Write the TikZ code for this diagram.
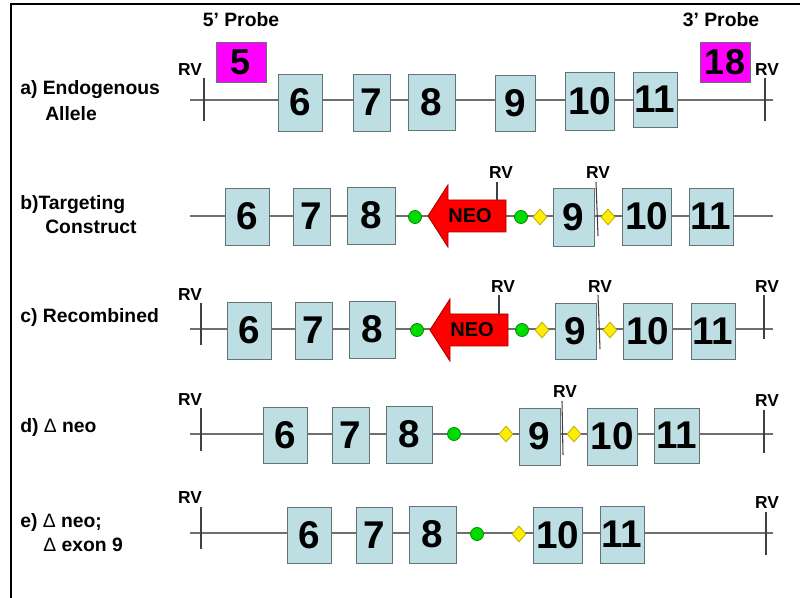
\documentclass[tikz,border=0pt]{standalone}
\usepackage{fontspec}
\setmainfont{Liberation Sans}
\definecolor{exfill}{RGB}{189,222,226}
\definecolor{exedge}{RGB}{100,115,118}
\definecolor{lineg}{RGB}{110,110,110}
\definecolor{neored}{RGB}{255,0,0}
\definecolor{neoedge}{RGB}{170,0,0}
\definecolor{loxg}{RGB}{0,220,0}
\definecolor{loxedge}{RGB}{0,140,0}
\definecolor{fry}{RGB}{255,238,0}
\definecolor{fredge}{RGB}{190,170,0}
\definecolor{probefill}{RGB}{255,0,255}
\tikzset{
  exon/.style={draw=exedge, fill=exfill, line width=0.7pt, inner sep=0pt,
    font=\fontsize{29}{29}\selectfont\bfseries},
  probe/.style={draw=exedge, fill=probefill, line width=0.7pt, inner sep=0pt,
    font=\fontsize{27}{27}\selectfont\bfseries},
  baseline/.style={draw=lineg, line width=0.8pt},
  tick/.style={draw=black!75, line width=0.8pt},
  rv/.style={font=\fontsize{13}{14}\selectfont\bfseries, inner sep=0pt},
  lab/.style={font=\fontsize{14.5}{16}\selectfont\bfseries, inner sep=0pt, anchor=west},
  loxp/.style={circle, draw=loxedge, fill=loxg, line width=0.6pt, minimum size=13*0.75pt, inner sep=0pt},
  frt/.style={diamond, draw=fredge, fill=fry, line width=0.6pt, minimum width=14*0.75pt, minimum height=16*0.75pt, inner sep=0pt},
  neoarrow/.style={fill=neored, draw=neoedge, line width=0.7pt},
  neotext/.style={font=\fontsize{15}{16}\selectfont\bfseries, inner sep=0pt},
}
\usetikzlibrary{shapes.geometric}
\newcommand\ex[7][exon]{%
  \node[#1, minimum width={(#4-#3)*0.75pt}, minimum height={(#6-#5)*0.75pt}]
    (#2) at ({(#3+#4)/2},{(#5+#6)/2}) {\raisebox{-1.5pt}{#7}};}
\newcommand\neoarr[3]{% tip x, y, name
  \draw[neoarrow] (#1,#2) -- (#1+20,#2-31) -- (#1+20,#2-16) -- (#1+78,#2-16)
     -- (#1+78,#2+16) -- (#1+20,#2+16) -- (#1+20,#2+31) -- cycle;
  \node[neotext] (#3) at (#1+42,#2) {NEO};}
\begin{document}
\begin{tikzpicture}[x=0.75pt, y=-0.75pt]
\useasboundingbox (0,0) rectangle (800,598);
% frame
\draw[line width=1.4pt] (11,598) -- (11,4) -- (800,4);

% probe titles
\node[font=\fontsize{14.5}{16}\selectfont\bfseries, inner sep=0pt] (p5) at (241,20) {5’ Probe};
\node[font=\fontsize{14.5}{16}\selectfont\bfseries, inner sep=0pt] (p3) at (721,20) {3’ Probe};

% ---------- row a ----------
\node[lab] (la1) at (20,90) {a) Endogenous};
\node[lab] (la2) at (45,114) {Allele};
\coordinate (aS) at (190,100); \coordinate (aE) at (773,100);
\draw[baseline] (aS) -- (aE);
\ex[probe]{a5}{216}{266}{42}{82}{5}
\ex[probe]{a18}{700}{750}{42}{82}{18}
\ex{a6}{278}{322}{74}{131}{6}
\ex{a7}{353}{390}{74}{131}{7}
\ex{a8}{408}{455}{74}{130}{8}
\ex{a9}{495}{535}{75}{131}{9}
\ex{a10}{565}{614}{72}{130}{10}
\ex{a11}{633}{677}{72}{127}{11}
\node[rv] (arv1) at (190,70) {RV};
\draw[tick] (204,78) -- (204,121);
\node[rv] (arv2) at (767,70) {RV};
\draw[tick] (765,78) -- (765,121);

% ---------- row b ----------
\node[lab] (lb1) at (20,205) {b)Targeting};
\node[lab] (lb2) at (45,227) {Construct};
\coordinate (bS) at (190,216); \coordinate (bE) at (773,216);
\draw[baseline] (bS) -- (bE);
\ex{b6}{225}{269}{188}{245}{6}
\ex{b7}{293}{330}{188}{245}{7}
\ex{b8}{347}{395}{187}{244}{8}
\ex{b9}{553}{594}{188}{246}{9}
\ex{b10}{622}{671}{188}{245}{10}
\ex{b11}{689}{733}{188}{245}{11}
\node[loxp] (bl1) at (415,217) {};
\neoarr{428}{216}{bneo}
\node[loxp] (bl2) at (521,217) {};
\node[frt] (bf1) at (540,217) {};
\node[frt] (bf2) at (608,217) {};
\node[rv] (brv1) at (501,173) {RV};
\draw[tick] (497,182) -- (497,200);
\node[rv] (brv2) at (598,173) {RV};
\draw[tick] (596,182) -- (598,236);

% ---------- row c ----------
\node[lab] (lc1) at (20,318) {c) Recombined};
\coordinate (cS) at (190,329); \coordinate (cE) at (773,329);
\draw[baseline] (cS) -- (cE);
\ex{c6}{227}{271}{302}{359}{6}
\ex{c7}{295}{332}{302}{359}{7}
\ex{c8}{349}{395}{301}{358}{8}
\ex{c9}{555}{596}{303}{359}{9}
\ex{c10}{623}{672}{303}{359}{10}
\ex{c11}{691}{735}{303}{359}{11}
\node[loxp] (cl1) at (417,330) {};
\neoarr{430}{330}{cneo}
\node[loxp] (cl2) at (522,330) {};
\node[frt] (cf1) at (542,330) {};
\node[frt] (cf2) at (610,330) {};
\node[rv] (crv1) at (190,295) {RV};
\draw[tick] (201,303) -- (201,345);
\node[rv] (crv2) at (503,287) {RV};
\draw[tick] (499,295) -- (499,314);
\node[rv] (crv3) at (600,287) {RV};
\draw[tick] (598,295) -- (600,349);
\node[rv] (crv4) at (767,287) {RV};
\draw[tick] (764,295) -- (764,339);

% ---------- row d ----------
\node[lab] (ld1) at (20,428) {d) {\mdseries Δ} neo};
\coordinate (dS) at (190,434); \coordinate (dE) at (773,434);
\draw[baseline] (dS) -- (dE);
\ex{d6}{263}{307}{407}{463}{6}
\ex{d7}{332}{369}{407}{463}{7}
\ex{d8}{386}{432}{406}{463}{8}
\ex{d9}{519}{560}{408}{465}{9}
\ex{d10}{587}{637}{408}{465}{10}
\ex{d11}{654}{699}{408}{463}{11}
\node[loxp] (dl1) at (454,434) {};
\node[frt] (df1) at (506,434) {};
\node[frt] (df2) at (574,434) {};
\node[rv] (drv1) at (190,400) {RV};
\draw[tick] (201,408) -- (201,451);
\node[rv] (drv2) at (565,392) {RV};
\draw[tick] (562,401) -- (563,455);
\node[rv] (drv3) at (767,401) {RV};
\draw[tick] (764,410) -- (764,453);

% ---------- row e ----------
\node[lab] (le1) at (20,523) {e) {\mdseries Δ} neo;};
\node[lab] (le2) at (43,545) {{\mdseries Δ} exon 9};
\coordinate (eS) at (190,533); \coordinate (eE) at (773,533);
\draw[baseline] (eS) -- (eE);
\ex{e6}{287}{331}{507}{563}{6}
\ex{e7}{356}{392}{507}{563}{7}
\ex{e8}{409}{456}{506}{563}{8}
\ex{e10}{533}{582}{507}{563}{10}
\ex{e11}{600}{644}{506}{563}{11}
\node[loxp] (el1) at (477,534) {};
\node[frt] (ef1) at (519,534) {};
\node[rv] (erv1) at (190,498) {RV};
\draw[tick] (201,507) -- (201,549);
\node[rv] (erv2) at (767,503) {RV};
\draw[tick] (766,512) -- (766,555);
\end{tikzpicture}
\end{document}
